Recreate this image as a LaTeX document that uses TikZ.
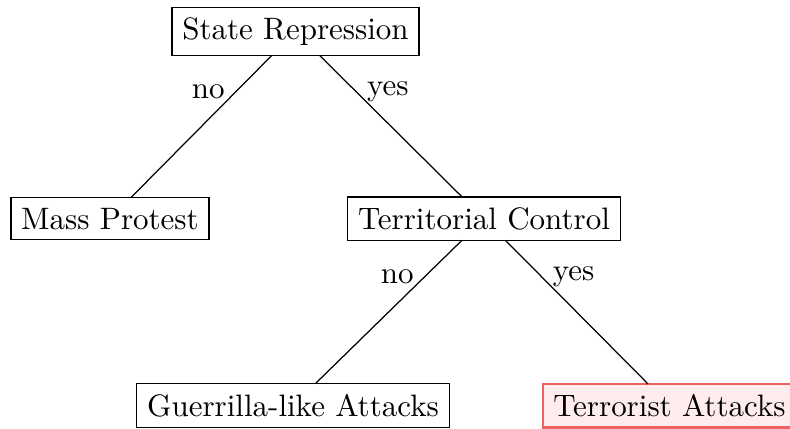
\documentclass[tikz,border=0pt]{standalone}
\usetikzlibrary{positioning}

\definecolor{hiborder}{RGB}{236,98,98}
\definecolor{hifill}{RGB}{255,236,236}

\tikzset{
  box/.style={draw, line width=0.4pt, inner sep=3.333pt, outer sep=0pt},
  outcome/.style={box, draw=hiborder, fill=hifill, line width=0.9pt},
  branch/.style={line width=0.4pt},
  lbl/.style={inner sep=3.333pt, pos=0.255}
}

\begin{document}
\begin{tikzpicture}[x=0.3226pt, y=-0.3226pt]
  \useasboundingbox (0,0) rectangle (790,428);

  % decision nodes
  \node[box] (sr) at (295.5,31.5) {State Repression};
  \node[box] (mp) at (110,218.7) {Mass Protest};
  \node[box] (tc) at (484,218.7) {Territorial Control};
  \node[box] (ga) at (293,405.5) {Guerrilla-like Attacks};
  \node[outcome, anchor=west] (ta) at (543,405.5) {Terrorist Attacks};

  % branches with their answers
  \draw[branch] (sr) -- node[lbl, anchor=east] {no} (mp);
  \draw[branch] (sr) -- node[lbl, anchor=west] {yes} (tc);
  \draw[branch] (tc) -- node[lbl, anchor=east] {no} (ga);
  \draw[branch] (tc) -- node[lbl, anchor=west] {yes} (ta);
\end{tikzpicture}
\end{document}
